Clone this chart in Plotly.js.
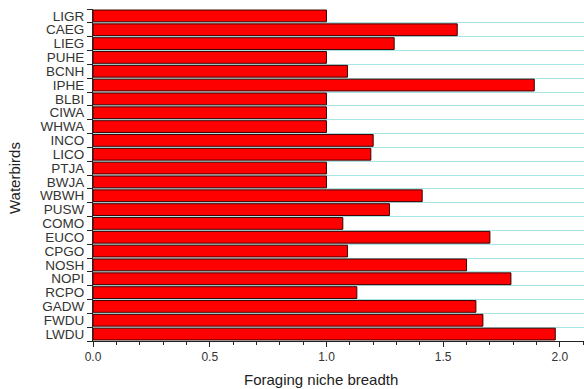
<!DOCTYPE html>
<html>
<head>
<meta charset="utf-8">
<script src="https://cdn.plot.ly/plotly-3.0.1.min.js"></script>
<style>html,body{margin:0;padding:0;background:#fff;}#chart{width:584px;height:389px;}</style>
</head>
<body>
<div id="chart"></div>
<script>
// Categories listed top to bottom as in the reference
const birds = ["LIGR","CAEG","LIEG","PUHE","BCNH","IPHE","BLBI","CIWA","WHWA","INCO","LICO","PTJA","BWJA","WBWH","PUSW","COMO","EUCO","CPGO","NOSH","NOPI","RCPO","GADW","FWDU","LWDU"];
const breadth = [1.00,1.56,1.29,1.00,1.09,1.89,1.00,1.00,1.00,1.20,1.19,1.00,1.00,1.41,1.27,1.07,1.70,1.09,1.60,1.79,1.13,1.64,1.67,1.98];
const xTitle = "Foraging niche breadth";
const yTitle = "Waterbirds";

const font = "Liberation Sans, Arial, sans-serif";
const trace = {
  type: "bar",
  orientation: "h",
  x: breadth,
  y: birds,
  marker: {color: "#ff0000", line: {color: "#3a0000", width: 1}},
  hoverinfo: "x+y"
};
const layout = {
  width: 584, height: 389,
  margin: {l: 93, r: 0, t: 9, b: 48, pad: 0},
  paper_bgcolor: "#ffffff", plot_bgcolor: "#ffffff",
  bargap: 0.15,
  showlegend: false,
  font: {family: font, color: "#222"},
  xaxis: {
    range: [0, 2.103],
    dtick: 0.5, tick0: 0, tickformat: ".1f",
    ticks: "outside", ticklen: 5, tickcolor: "#222", tickwidth: 1,
    minor: {dtick: 0.1, ticks: "outside", ticklen: 3, tickcolor: "#222", showgrid: false},
    showline: true, linecolor: "#222", linewidth: 1,
    showgrid: false, zeroline: false,
    tickfont: {size: 12, family: font, color: "#333"},
    fixedrange: true
  },
  yaxis: {
    type: "category",
    autorange: "reversed",
    tickmode: "array", tickvals: birds, ticktext: birds,
    tickson: "boundaries",
    ticks: "outside", ticklen: 5, tickcolor: "#222", tickwidth: 1,
    showline: true, linecolor: "#222", linewidth: 1,
    showgrid: true, gridcolor: "#a8e4e6", gridwidth: 1,
    zeroline: false,
    tickfont: {size: 13.5, family: font, color: "#333"},
    ticklabelstandoff: 5,
    fixedrange: true
  },
  annotations: [{
    text: xTitle, xref: "paper", yref: "paper",
    x: (321 - 93) / (584 - 93), y: 0, yshift: -38,
    xanchor: "center", yanchor: "middle", showarrow: false,
    font: {size: 15, family: font, color: "#222"}
  }, {
    text: yTitle, xref: "paper", yref: "paper",
    x: 0, xshift: -79, y: 0.5, yshift: -3, textangle: -90,
    xanchor: "center", yanchor: "middle", showarrow: false,
    font: {size: 15, family: font, color: "#222"}
  }]
};
Plotly.newPlot("chart", [trace], layout, {displayModeBar: false, staticPlot: true});
</script>
</body>
</html>
